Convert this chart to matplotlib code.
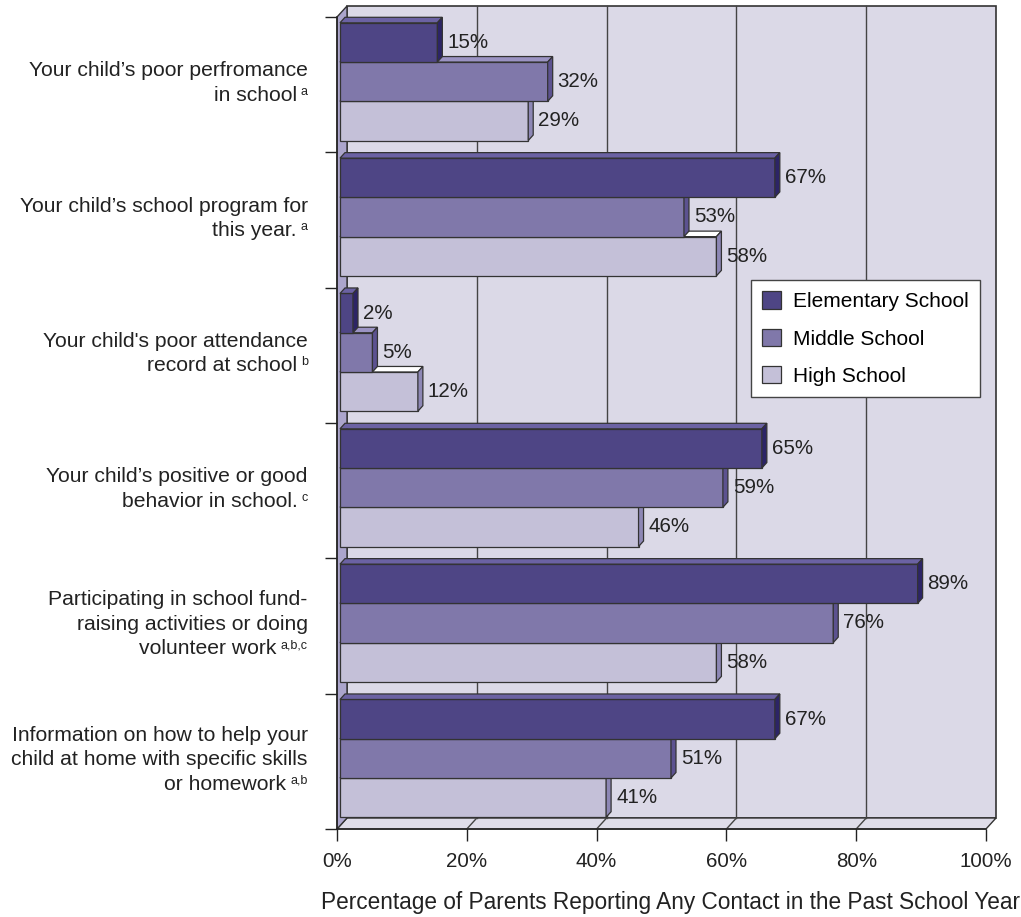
import matplotlib
matplotlib.use("Agg")
from matplotlib import pyplot as plt
from matplotlib.patches import Polygon, Patch
from matplotlib.offsetbox import TextArea, HPacker, VPacker, AnnotationBbox

plt.rcParams['font.family'] = ['Liberation Sans', 'DejaVu Sans']

# data (top category first)
categories = [
    ["Your child\u2019s poor perfromance", "in school"],
    ["Your child\u2019s school program for", "this year."],
    ["Your child's poor attendance", "record at school"],
    ["Your child\u2019s positive or good", "behavior in school."],
    ["Participating in school fund-", "raising activities or doing", "volunteer work"],
    ["Information on how to help your", "child at home with specific skills", "or homework"],
]
footnotes = ["a", "a", "b", "c", "a,b,c", "a,b"]
series_names = ["Elementary School", "Middle School", "High School"]
elementary = [15, 67, 2, 65, 89, 67]
middle = [32, 53, 5, 59, 76, 51]
high = [29, 58, 12, 46, 58, 41]
xticks = [0, 20, 40, 60, 80, 100]

front_c = ['#4e4585', '#8078aa', '#c4c0d8']
top_c = ['#6b62a3', '#9b93c3', '#ffffff']
side_c = ['#2c2466', '#5c5290', '#8d87b5']
txt = '#222222'

W, H = 1021, 917
fig = plt.figure(figsize=(W / 100, H / 100), dpi=100)
x_left, x_right = 337, 986
y_top, y_bot = 17, 829
ax = fig.add_axes([x_left / W, 1 - y_bot / H, (x_right - x_left) / W, (y_bot - y_top) / H])
ax.set_xlim(0, 100)
ax.set_ylim(0, 6)
ax.set_facecolor('none')

# pixel -> data units
px = 100 / (x_right - x_left)
py = 6 / (y_bot - y_top)
wdx, wdy = 10 * px, 11 * py  # wall depth
edge = '#333333'

# back wall, floor, left wall
ax.add_patch(Polygon([(wdx, wdy), (100 + wdx, wdy), (100 + wdx, 6 + wdy), (wdx, 6 + wdy)],
                     closed=True, fc='#dbd9e7', ec=edge, lw=1.2, clip_on=False, zorder=0.5))
ax.add_patch(Polygon([(0, 0), (100, 0), (100 + wdx, wdy), (wdx, wdy)],
                     closed=True, fc='#dfdde9', ec=edge, lw=1, clip_on=False, zorder=0.6))
ax.add_patch(Polygon([(0, 0), (wdx, wdy), (wdx, 6 + wdy), (0, 6)],
                     closed=True, fc='#aba5cc', ec=edge, lw=1, clip_on=False, zorder=0.6))
for t in xticks[1:-1]:
    ax.plot([t + wdx, t + wdx], [wdy, 6 + wdy], color='#444444', lw=1, zorder=0.7, clip_on=False)
    ax.plot([t, t + wdx], [0, wdy], color='#444444', lw=1, zorder=0.7, clip_on=False)

# 3D bars
bh = 0.29
marg = (1 - 3 * bh) / 2
ox, oy = 3 * px, 3 * py      # bar front offset
bdx, bdy = 5 * px, 5.5 * py  # bar depth
series = [elementary, middle, high]
n = len(categories)
for k in range(n - 1, -1, -1):
    i = n - 1 - k
    for s in (2, 1, 0):
        v = series[s][k]
        y0 = i + marg + (2 - s) * bh + oy
        y1 = y0 + bh
        x0, x1 = ox, ox + v
        z = 2 + i + (2 - s) * 0.1
        ax.add_patch(Polygon([(x0, y0), (x1, y0), (x1, y1), (x0, y1)], closed=True,
                             fc=front_c[s], ec=edge, lw=0.9, zorder=z, clip_on=False))
        ax.add_patch(Polygon([(x0, y1), (x1, y1), (x1 + bdx, y1 + bdy), (x0 + bdx, y1 + bdy)],
                             closed=True, fc=top_c[s], ec=edge, lw=0.9, zorder=z, clip_on=False))
        ax.add_patch(Polygon([(x1, y0), (x1 + bdx, y0 + bdy), (x1 + bdx, y1 + bdy), (x1, y1)],
                             closed=True, fc=side_c[s], ec=edge, lw=0.9, zorder=z, clip_on=False))
        ax.text(x1 + bdx + 5 * px, (y0 + y1) / 2, f"{v}%", ha='left', va='center',
                fontsize=14.8, color=txt, zorder=20)

# category labels with small superscript footnotes
for k, (lines, fn) in enumerate(zip(categories, footnotes)):
    yc = n - 1 - k + 0.5 + oy
    rows = []
    for j, line in enumerate(lines):
        ta = TextArea(line, textprops=dict(fontsize=15.2, color=txt))
        if j == len(lines) - 1:
            sup = TextArea(fn, textprops=dict(fontsize=9, color=txt))
            ta = HPacker(children=[ta, sup], align='top', pad=0, sep=3)
        rows.append(ta)
    box = VPacker(children=rows, align='right', pad=0, sep=3.9)
    ab = AnnotationBbox(box, xy=(0, yc), xycoords='data', xybox=(-21, -1),
                        boxcoords='offset points', box_alignment=(1, 0.5), frameon=False,
                        annotation_clip=False)
    ax.add_artist(ab)

# axes, ticks, labels
for sp in ('top', 'right'):
    ax.spines[sp].set_visible(False)
for sp in ('left', 'bottom'):
    ax.spines[sp].set_color(txt)
    ax.spines[sp].set_linewidth(1.1)
ax.set_xticks(xticks)
ax.set_xticklabels([f"{t}%" for t in xticks])
ax.tick_params(axis='x', direction='out', length=8.6, width=1, color=txt,
               labelsize=14.8, labelcolor=txt, pad=8)
ax.set_yticks(range(n + 1))
ax.set_yticklabels([])
ax.tick_params(axis='y', direction='out', length=8.6, width=1, color=txt)
ax.set_xlabel("Percentage of Parents Reporting Any Contact in the Past School Year",
              fontsize=16.3, color=txt)
ax.xaxis.set_label_coords((670 - x_left) / (x_right - x_left), -(902 - y_bot) / (y_bot - y_top))
ax.xaxis.label.set_va('center')

handles = [Patch(fc=front_c[s], ec=edge, lw=0.9) for s in range(3)]
leg = ax.legend(handles, series_names, loc='upper left', bbox_to_anchor=(751 / W, 1 - 280 / H),
                bbox_transform=fig.transFigure, fancybox=False, framealpha=1, edgecolor='#444444',
                fontsize=15, handlelength=0.9, handleheight=0.9, handletextpad=0.55,
                labelspacing=0.84, borderpad=0.55, borderaxespad=0)
leg.get_frame().set_linewidth(1)
leg.set_zorder(30)

fig.savefig("out.png", dpi=100)
